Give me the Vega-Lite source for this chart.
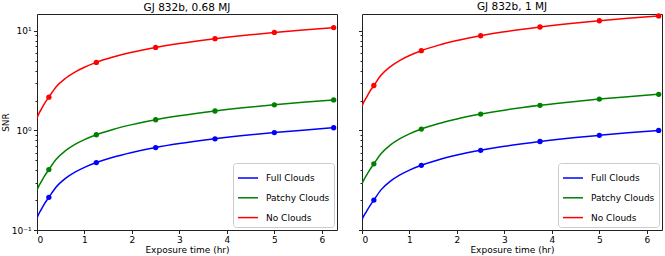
{
  "$schema": "https://vega.github.io/schema/vega-lite/v6.json",
  "padding": {"left": 0, "top": 1, "right": 0, "bottom": 0},
  "bounds": "flush",
  "spacing": 25,
  "config": {
    "font": "DejaVu Sans",
    "view": {"stroke": "#222", "strokeWidth": 1},
    "title": {"fontSize": 10.5, "fontWeight": "normal", "offset": 1, "color": "#000"},
    "axis": {"labelFontSize": 9, "titleFontSize": 9, "titleFontWeight": "normal", "labelColor": "#000", "titleColor": "#000", "tickColor": "#222", "grid": false, "domain": false, "labelOverlap": false}
  },
  "datasets": {
    "d": [
      {"p":"L","s":"Full Clouds","x":0,"y":0.132,"m":0},{"p":"L","s":"Full Clouds","x":0.05,"y":0.149,"m":0},{"p":"L","s":"Full Clouds","x":0.1,"y":0.164,"m":0},{"p":"L","s":"Full Clouds","x":0.15,"y":0.181,"m":0},{"p":"L","s":"Full Clouds","x":0.25,"y":0.213,"m":1},{"p":"L","s":"Full Clouds","x":0.4,"y":0.269,"m":0},{"p":"L","s":"Full Clouds","x":0.6,"y":0.330,"m":0},{"p":"L","s":"Full Clouds","x":0.8,"y":0.381,"m":0},{"p":"L","s":"Full Clouds","x":1.0,"y":0.426,"m":0},{"p":"L","s":"Full Clouds","x":1.25,"y":0.476,"m":1},{"p":"L","s":"Full Clouds","x":1.6,"y":0.539,"m":0},{"p":"L","s":"Full Clouds","x":2.0,"y":0.602,"m":0},{"p":"L","s":"Full Clouds","x":2.5,"y":0.674,"m":1},{"p":"L","s":"Full Clouds","x":3.0,"y":0.738,"m":0},{"p":"L","s":"Full Clouds","x":3.75,"y":0.825,"m":1},{"p":"L","s":"Full Clouds","x":4.5,"y":0.904,"m":0},{"p":"L","s":"Full Clouds","x":5.0,"y":0.953,"m":1},{"p":"L","s":"Full Clouds","x":5.6,"y":1.008,"m":0},{"p":"L","s":"Full Clouds","x":6.25,"y":1.065,"m":1},
      {"p":"L","s":"Patchy Clouds","x":0,"y":0.251,"m":0},{"p":"L","s":"Patchy Clouds","x":0.05,"y":0.284,"m":0},{"p":"L","s":"Patchy Clouds","x":0.1,"y":0.312,"m":0},{"p":"L","s":"Patchy Clouds","x":0.15,"y":0.344,"m":0},{"p":"L","s":"Patchy Clouds","x":0.25,"y":0.405,"m":1},{"p":"L","s":"Patchy Clouds","x":0.4,"y":0.512,"m":0},{"p":"L","s":"Patchy Clouds","x":0.6,"y":0.627,"m":0},{"p":"L","s":"Patchy Clouds","x":0.8,"y":0.725,"m":0},{"p":"L","s":"Patchy Clouds","x":1.0,"y":0.810,"m":0},{"p":"L","s":"Patchy Clouds","x":1.25,"y":0.906,"m":1},{"p":"L","s":"Patchy Clouds","x":1.6,"y":1.025,"m":0},{"p":"L","s":"Patchy Clouds","x":2.0,"y":1.145,"m":0},{"p":"L","s":"Patchy Clouds","x":2.5,"y":1.281,"m":1},{"p":"L","s":"Patchy Clouds","x":3.0,"y":1.403,"m":0},{"p":"L","s":"Patchy Clouds","x":3.75,"y":1.569,"m":1},{"p":"L","s":"Patchy Clouds","x":4.5,"y":1.718,"m":0},{"p":"L","s":"Patchy Clouds","x":5.0,"y":1.811,"m":1},{"p":"L","s":"Patchy Clouds","x":5.6,"y":1.917,"m":0},{"p":"L","s":"Patchy Clouds","x":6.25,"y":2.025,"m":1},
      {"p":"L","s":"No Clouds","x":0,"y":1.339,"m":0},{"p":"L","s":"No Clouds","x":0.05,"y":1.512,"m":0},{"p":"L","s":"No Clouds","x":0.1,"y":1.663,"m":0},{"p":"L","s":"No Clouds","x":0.15,"y":1.836,"m":0},{"p":"L","s":"No Clouds","x":0.25,"y":2.16,"m":1},{"p":"L","s":"No Clouds","x":0.4,"y":2.732,"m":0},{"p":"L","s":"No Clouds","x":0.6,"y":3.346,"m":0},{"p":"L","s":"No Clouds","x":0.8,"y":3.864,"m":0},{"p":"L","s":"No Clouds","x":1.0,"y":4.32,"m":0},{"p":"L","s":"No Clouds","x":1.25,"y":4.83,"m":1},{"p":"L","s":"No Clouds","x":1.6,"y":5.465,"m":0},{"p":"L","s":"No Clouds","x":2.0,"y":6.108,"m":0},{"p":"L","s":"No Clouds","x":2.5,"y":6.83,"m":1},{"p":"L","s":"No Clouds","x":3.0,"y":7.482,"m":0},{"p":"L","s":"No Clouds","x":3.75,"y":8.366,"m":1},{"p":"L","s":"No Clouds","x":4.5,"y":9.165,"m":0},{"p":"L","s":"No Clouds","x":5.0,"y":9.66,"m":1},{"p":"L","s":"No Clouds","x":5.6,"y":10.223,"m":0},{"p":"L","s":"No Clouds","x":6.25,"y":10.8,"m":1},
      {"p":"R","s":"Full Clouds","x":0,"y":0.128,"m":0},{"p":"R","s":"Full Clouds","x":0.05,"y":0.142,"m":0},{"p":"R","s":"Full Clouds","x":0.1,"y":0.155,"m":0},{"p":"R","s":"Full Clouds","x":0.15,"y":0.17,"m":0},{"p":"R","s":"Full Clouds","x":0.25,"y":0.2,"m":1},{"p":"R","s":"Full Clouds","x":0.4,"y":0.253,"m":0},{"p":"R","s":"Full Clouds","x":0.6,"y":0.310,"m":0},{"p":"R","s":"Full Clouds","x":0.8,"y":0.358,"m":0},{"p":"R","s":"Full Clouds","x":1.0,"y":0.4,"m":0},{"p":"R","s":"Full Clouds","x":1.25,"y":0.447,"m":1},{"p":"R","s":"Full Clouds","x":1.6,"y":0.506,"m":0},{"p":"R","s":"Full Clouds","x":2.0,"y":0.566,"m":0},{"p":"R","s":"Full Clouds","x":2.5,"y":0.632,"m":1},{"p":"R","s":"Full Clouds","x":3.0,"y":0.693,"m":0},{"p":"R","s":"Full Clouds","x":3.75,"y":0.775,"m":1},{"p":"R","s":"Full Clouds","x":4.5,"y":0.849,"m":0},{"p":"R","s":"Full Clouds","x":5.0,"y":0.894,"m":1},{"p":"R","s":"Full Clouds","x":5.6,"y":0.947,"m":0},{"p":"R","s":"Full Clouds","x":6.25,"y":1.0,"m":1},
      {"p":"R","s":"Patchy Clouds","x":0,"y":0.293,"m":0},{"p":"R","s":"Patchy Clouds","x":0.05,"y":0.327,"m":0},{"p":"R","s":"Patchy Clouds","x":0.1,"y":0.358,"m":0},{"p":"R","s":"Patchy Clouds","x":0.15,"y":0.393,"m":0},{"p":"R","s":"Patchy Clouds","x":0.25,"y":0.462,"m":1},{"p":"R","s":"Patchy Clouds","x":0.4,"y":0.584,"m":0},{"p":"R","s":"Patchy Clouds","x":0.6,"y":0.716,"m":0},{"p":"R","s":"Patchy Clouds","x":0.8,"y":0.827,"m":0},{"p":"R","s":"Patchy Clouds","x":1.0,"y":0.924,"m":0},{"p":"R","s":"Patchy Clouds","x":1.25,"y":1.033,"m":1},{"p":"R","s":"Patchy Clouds","x":1.6,"y":1.169,"m":0},{"p":"R","s":"Patchy Clouds","x":2.0,"y":1.307,"m":0},{"p":"R","s":"Patchy Clouds","x":2.5,"y":1.461,"m":1},{"p":"R","s":"Patchy Clouds","x":3.0,"y":1.6,"m":0},{"p":"R","s":"Patchy Clouds","x":3.75,"y":1.789,"m":1},{"p":"R","s":"Patchy Clouds","x":4.5,"y":1.96,"m":0},{"p":"R","s":"Patchy Clouds","x":5.0,"y":2.066,"m":1},{"p":"R","s":"Patchy Clouds","x":5.6,"y":2.187,"m":0},{"p":"R","s":"Patchy Clouds","x":6.25,"y":2.31,"m":1},
      {"p":"R","s":"No Clouds","x":0,"y":1.755,"m":0},{"p":"R","s":"No Clouds","x":0.05,"y":1.981,"m":0},{"p":"R","s":"No Clouds","x":0.1,"y":2.179,"m":0},{"p":"R","s":"No Clouds","x":0.15,"y":2.406,"m":0},{"p":"R","s":"No Clouds","x":0.25,"y":2.83,"m":1},{"p":"R","s":"No Clouds","x":0.4,"y":3.58,"m":0},{"p":"R","s":"No Clouds","x":0.6,"y":4.384,"m":0},{"p":"R","s":"No Clouds","x":0.8,"y":5.063,"m":0},{"p":"R","s":"No Clouds","x":1.0,"y":5.66,"m":0},{"p":"R","s":"No Clouds","x":1.25,"y":6.328,"m":1},{"p":"R","s":"No Clouds","x":1.6,"y":7.16,"m":0},{"p":"R","s":"No Clouds","x":2.0,"y":8.003,"m":0},{"p":"R","s":"No Clouds","x":2.5,"y":8.948,"m":1},{"p":"R","s":"No Clouds","x":3.0,"y":9.803,"m":0},{"p":"R","s":"No Clouds","x":3.75,"y":10.961,"m":1},{"p":"R","s":"No Clouds","x":4.5,"y":12.008,"m":0},{"p":"R","s":"No Clouds","x":5.0,"y":12.656,"m":1},{"p":"R","s":"No Clouds","x":5.6,"y":13.394,"m":0},{"p":"R","s":"No Clouds","x":6.25,"y":14.15,"m":1}
    ]
  },
  "resolve": {"legend": {"color": "independent"}, "scale": {"color": "independent"}},
  "hconcat": [
    {
      "width": 300, "height": 216,
      "title": "GJ 832b, 0.68 MJ",
      "layer": [
        {
          "data": {"name": "d"},
          "transform": [{"filter": "datum.p == 'L'"}],
          "mark": {"type": "line", "strokeWidth": 1.5, "interpolate": "monotone", "clip": true},
          "encoding": {
            "x": {"field": "x", "type": "quantitative", "scale": {"domain": [0, 6.32], "nice": false, "zero": false}, "axis": {"values": [0,1,2,3,4,5,6], "format": "d", "tickSize": 3.5, "labelPadding": 1.5, "title": "Exposure time (hr)", "titlePadding": 1}},
            "y": {"field": "y", "type": "quantitative", "scale": {"type": "log", "domain": [0.1, 14.8], "nice": false}, "axis": {"values": [0.1,0.2,0.3,0.4,0.5,0.6,0.7,0.8,0.9,1,2,3,4,5,6,7,8,9,10], "labelExpr": "datum.value < 0.15 ? '10⁻¹' : (datum.value > 0.95 && datum.value < 1.05) ? '10⁰' : datum.value > 9.5 ? '10¹' : ''", "tickSize": {"condition": {"test": "datum.value < 0.15 || (datum.value > 0.95 && datum.value < 1.05) || datum.value > 9.5", "value": 3.5}, "value": 2}, "labelPadding": 2.5, "title": "SNR", "titlePadding": 1}},
            "color": {"field": "s", "type": "nominal", "scale": {"domain": ["Full Clouds", "Patchy Clouds", "No Clouds"], "range": ["#0000ff", "#008000", "#ff0000"]}, "legend": {"title": null, "orient": "bottom-right", "offset": 3, "symbolType": "stroke", "symbolSize": 400, "symbolStrokeWidth": 1.5, "labelFontSize": 9, "labelColor": "#000", "rowPadding": 3.8, "padding": 4, "strokeColor": "#ccc", "fillColor": "rgba(255,255,255,0.85)", "cornerRadius": 3, "labelOffset": 7}}
          }
        },
        {
          "data": {"name": "d"},
          "transform": [{"filter": "datum.p == 'L' && datum.m == 1"}],
          "mark": {"type": "circle", "size": 28, "opacity": 1},
          "encoding": {
            "x": {"field": "x", "type": "quantitative"},
            "y": {"field": "y", "type": "quantitative"},
            "color": {"field": "s", "type": "nominal", "legend": null}
          }
        },
        {
          "mark": {"type": "rule", "strokeDash": [5, 3], "color": "#888", "strokeWidth": 1},
          "encoding": {"y": {"datum": 4, "type": "quantitative"}}
        }
      ]
    },
    {
      "width": 300, "height": 216,
      "title": "GJ 832b, 1 MJ",
      "layer": [
        {
          "data": {"name": "d"},
          "transform": [{"filter": "datum.p == 'R'"}],
          "mark": {"type": "line", "strokeWidth": 1.5, "interpolate": "monotone", "clip": true},
          "encoding": {
            "x": {"field": "x", "type": "quantitative", "scale": {"domain": [0, 6.32], "nice": false, "zero": false}, "axis": {"values": [0,1,2,3,4,5,6], "format": "d", "tickSize": 3.5, "labelPadding": 1.5, "title": "Exposure time (hr)", "titlePadding": 1}},
            "y": {"field": "y", "type": "quantitative", "scale": {"type": "log", "domain": [0.1, 14.8], "nice": false}, "axis": {"values": [0.1,0.2,0.3,0.4,0.5,0.6,0.7,0.8,0.9,1,2,3,4,5,6,7,8,9,10], "labels": false, "tickSize": {"condition": {"test": "datum.value < 0.15 || (datum.value > 0.95 && datum.value < 1.05) || datum.value > 9.5", "value": 3.5}, "value": 2}, "title": null}},
            "color": {"field": "s", "type": "nominal", "scale": {"domain": ["Full Clouds", "Patchy Clouds", "No Clouds"], "range": ["#0000ff", "#008000", "#ff0000"]}, "legend": {"title": null, "orient": "bottom-right", "offset": 3, "symbolType": "stroke", "symbolSize": 400, "symbolStrokeWidth": 1.5, "labelFontSize": 9, "labelColor": "#000", "rowPadding": 3.8, "padding": 4, "strokeColor": "#ccc", "fillColor": "rgba(255,255,255,0.85)", "cornerRadius": 3, "labelOffset": 7}}
          }
        },
        {
          "data": {"name": "d"},
          "transform": [{"filter": "datum.p == 'R' && datum.m == 1"}],
          "mark": {"type": "circle", "size": 28, "opacity": 1},
          "encoding": {
            "x": {"field": "x", "type": "quantitative"},
            "y": {"field": "y", "type": "quantitative"},
            "color": {"field": "s", "type": "nominal", "legend": null}
          }
        },
        {
          "mark": {"type": "rule", "strokeDash": [5, 3], "color": "#888", "strokeWidth": 1},
          "encoding": {"y": {"datum": 4, "type": "quantitative"}}
        }
      ]
    }
  ]
}
